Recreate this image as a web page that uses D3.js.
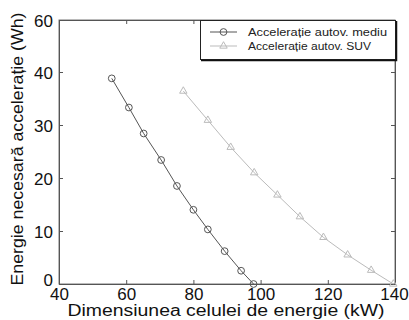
<!DOCTYPE html>
<html>
<head>
<meta charset="utf-8">
<script src="https://cdn.jsdelivr.net/npm/d3@7"></script>
<style>
  body { margin: 0; background: #fff; }
  svg { display: block; font-family: "Liberation Sans", Arial, sans-serif; }
</style>
</head>
<body>
<div id="chart"></div>
<script>
const width = 409;
const height = 320;
const margin = { top: 20, right: 14, bottom: 36, left: 59 };

// data
const mediuX = [55.7, 60.8, 65.2, 70.4, 75.1, 80.0, 84.3, 89.3, 94.2, 97.9];
const mediuY = [38.8, 33.3, 28.4, 23.4, 18.5, 14.0, 10.3, 6.2, 2.5, 0];
const suvX = [77.0, 84.3, 91.1, 98.1, 105.0, 111.7, 118.7, 125.9, 132.9, 139.5];
const suvY = [36.4, 30.9, 25.8, 21.0, 16.8, 12.7, 8.8, 5.5, 2.6, 0];
const xTicks = [40, 60, 80, 100, 120, 140];
const yTicks = [0, 10, 20, 30, 40, 60];
const seriesNames = ["Accelerație autov. mediu", "Accelerație autov. SUV"];

const svg = d3.select("#chart")
    .append("svg")
    .attr("width", width)
    .attr("height", height);

const x = d3.scaleLinear()
    .domain([40, 140])
    .range([margin.left, width - margin.right]);

// the picture's y axis is compressed above 40, so use a two-piece scale
const y = d3.scaleLinear()
    .domain([0, 40, 60])
    .range([height - margin.bottom, 72, margin.top]);

const axisColor = "#555";

// plot box
svg.append("rect")
    .attr("x", margin.left)
    .attr("y", margin.top)
    .attr("width", width - margin.left - margin.right)
    .attr("height", height - margin.top - margin.bottom)
    .attr("fill", "none")
    .attr("stroke", "#777")
    .attr("stroke-width", 1);

// inward ticks on all four sides
const bottomAxis = svg.append("g")
    .attr("transform", `translate(0,${height - margin.bottom})`)
    .call(d3.axisBottom(x).tickValues(xTicks).tickSizeInner(-4).tickSizeOuter(0).tickPadding(4));
const topAxis = svg.append("g")
    .attr("transform", `translate(0,${margin.top})`)
    .call(d3.axisTop(x).tickValues(xTicks).tickSizeInner(-4).tickSizeOuter(0).tickFormat(""));
const leftAxis = svg.append("g")
    .attr("transform", `translate(${margin.left},0)`)
    .call(d3.axisLeft(y).tickValues(yTicks).tickSizeInner(-4).tickSizeOuter(0).tickPadding(6));
const rightAxis = svg.append("g")
    .attr("transform", `translate(${width - margin.right},0)`)
    .call(d3.axisRight(y).tickValues(yTicks).tickSizeInner(-4).tickSizeOuter(0).tickFormat(""));

[bottomAxis, topAxis, leftAxis, rightAxis].forEach(g => {
    g.select(".domain").attr("stroke", axisColor);
    g.selectAll(".tick line").attr("stroke", axisColor);
    g.selectAll("text")
        .attr("fill", "#111")
        .style("font-size", "17px");
});
bottomAxis.selectAll("text").attr("dy", "0.68em");
bottomAxis.selectAll(".tick:last-of-type text").attr("dx", "-1px");
leftAxis.selectAll("text").attr("dy", "0.36em");
// lift the "0" label a little so it clears the "40" below it
leftAxis.selectAll(".tick text").filter(d => d === 0).attr("dy", "0.1em");

// axis titles
svg.append("text")
    .attr("x", 226)
    .attr("y", 316)
    .attr("text-anchor", "middle")
    .attr("fill", "#111")
    .style("font-size", "16px")
    .attr("textLength", 317)
    .attr("lengthAdjust", "spacingAndGlyphs")
    .text("Dimensiunea celulei de energie (kW)");

svg.append("text")
    .attr("transform", "translate(23,149) rotate(-90)")
    .attr("text-anchor", "middle")
    .attr("fill", "#111")
    .style("font-size", "17px")
    .attr("textLength", 273)
    .attr("lengthAdjust", "spacingAndGlyphs")
    .text("Energie necesară accelerație (Wh)");

// series
const series = [
    { name: seriesNames[0], xs: mediuX, ys: mediuY, color: "#555", symbol: d3.symbolCircle, size: 36 },
    { name: seriesNames[1], xs: suvX, ys: suvY, color: "#bbb", symbol: d3.symbolTriangle, size: 24 }
];

const line = d3.line()
    .x(d => x(d[0]))
    .y(d => y(d[1]));

series.forEach(s => {
    const pts = s.xs.map((v, i) => [v, s.ys[i]]);
    svg.append("path")
        .datum(pts)
        .attr("fill", "none")
        .attr("stroke", s.color)
        .attr("stroke-width", 1)
        .attr("d", line);
    svg.selectAll(null)
        .data(pts)
        .enter()
        .append("path")
        .attr("transform", d => `translate(${x(d[0])},${y(d[1])})`)
        .attr("d", d3.symbol().type(s.symbol).size(s.size))
        .attr("fill", "none")
        .attr("stroke", s.color)
        .attr("stroke-width", 1);
});

// legend
const legend = svg.append("g");
legend.append("rect")
    .attr("x", 200.5)
    .attr("y", 20.5)
    .attr("width", 195)
    .attr("height", 39)
    .attr("fill", "#fff")
    .attr("stroke", "#222")
    .attr("stroke-width", 1);
legend.append("path")
    .attr("d", "M201,60.5H396.5V21")
    .attr("fill", "none")
    .attr("stroke", "#111")
    .attr("stroke-width", 1.5);

series.forEach((s, i) => {
    const ly = 32 + i * 14;
    legend.append("line")
        .attr("x1", 210).attr("x2", 237)
        .attr("y1", ly).attr("y2", ly)
        .attr("stroke", s.color);
    legend.append("path")
        .attr("transform", `translate(223.5,${ly})`)
        .attr("d", d3.symbol().type(s.symbol).size(s.size))
        .attr("fill", "none")
        .attr("stroke", s.color);
    legend.append("text")
        .attr("x", 248)
        .attr("y", ly)
        .attr("dy", "0.35em")
        .attr("fill", "#222")
        .style("font-size", "10px")
        .attr("textLength", i === 0 ? 139 : 123)
        .attr("lengthAdjust", "spacingAndGlyphs")
        .text(s.name);
});
</script>
</body>
</html>
